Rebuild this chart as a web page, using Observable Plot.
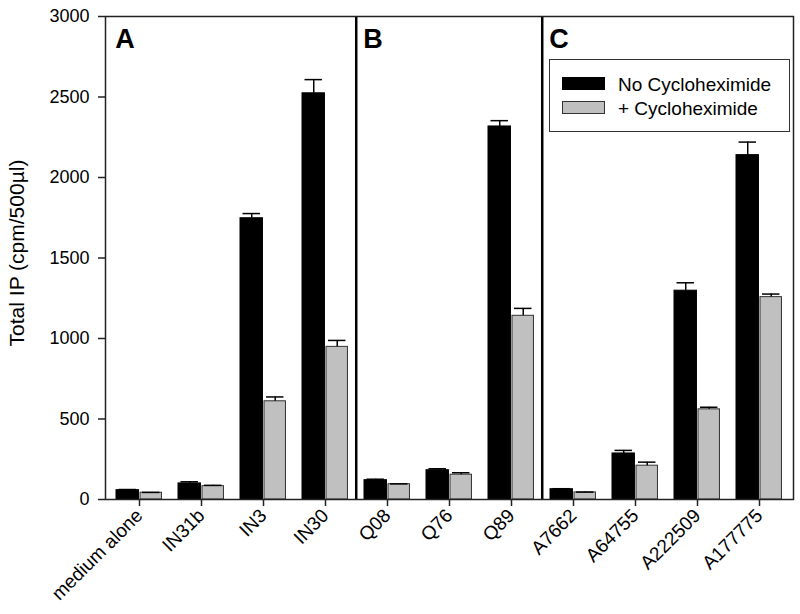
<!DOCTYPE html>
<html>
<head>
<meta charset="utf-8">
<script src="https://cdn.jsdelivr.net/npm/d3@7"></script>
<script src="https://cdn.jsdelivr.net/npm/@observablehq/plot@0.6"></script>
<style>
  html, body { margin: 0; padding: 0; background: #fff; }
  #wrap { position: relative; width: 800px; height: 614px; font-family: "Liberation Sans", Arial, sans-serif; color: #000; }
  #legend { position: absolute; left: 549px; top: 59px; width: 239px; height: 71px; border: 1.5px solid #333; background: #fff; box-sizing: content-box; }
  .sw { position: absolute; left: 12px; width: 43px; height: 13px; box-sizing: border-box; }
  .lt { position: absolute; left: 68px; font-size: 19px; line-height: 19px; white-space: nowrap; }
</style>
</head>
<body>
<div id="wrap"></div>
<script>
const categories = ["medium alone", "IN31b", "IN3", "IN30", "Q08", "Q76", "Q89", "A7662", "A64755", "A222509", "A177775"];
const noCyclo    = [58, 100, 1747, 2523, 120, 182, 2317, 64, 286, 1297, 2139];
const noCycloErr = [62, 110, 1776, 2608, 126, 191, 2353, 67, 305, 1346, 2220];
const plusCyclo    = [42, 83, 610, 948, 95, 154, 1141, 44, 210, 560, 1257];
const plusCycloErr = [44, 88, 637, 988, 97, 166, 1187, 46, 232, 573, 1276];
const seriesNames = ["No Cycloheximide", "+ Cycloheximide"];
const yTicks = [0, 500, 1000, 1500, 2000, 2500, 3000];
const panelLabels = ["A", "B", "C"];
const panelStarts = ["medium alone", "Q08", "A7662"];
const dividers = ["Q08", "A7662"];
const yLabel = "Total IP (cpm/500µl)";

const W = 800, H = 614, mL = 105, mR = 7, mT = 16, mB = 115;
const bw = (W - mL - mR) / categories.length;

const black = categories.map((c, i) => ({cat: c, v: noCyclo[i], e: noCycloErr[i]}));
const gray = categories.map((c, i) => ({cat: c, v: plusCyclo[i], e: plusCycloErr[i]}));
const panels = panelLabels.map((p, i) => ({label: p, cat: panelStarts[i]}));

const plot = Plot.plot({
  width: W, height: H,
  marginLeft: mL, marginRight: mR, marginTop: mT, marginBottom: mB,
  style: {fontFamily: "'Liberation Sans', Arial, sans-serif", color: "#000", background: "#fff"},
  x: {type: "band", domain: categories, padding: 0},
  y: {domain: [0, 3000]},
  marks: [
    Plot.barY(black, {x: "cat", y: "v", fill: "#000", stroke: "#000", strokeWidth: 1, insetLeft: 8, insetRight: bw - 31}),
    Plot.barY(gray, {x: "cat", y: "v", fill: "#c0c0c0", stroke: "#333", strokeWidth: 1, insetLeft: 32, insetRight: bw - 54}),
    Plot.ruleX(black, {x: "cat", y1: "v", y2: "e", dx: 19.5 - bw / 2, stroke: "#000", strokeWidth: 1.5}),
    Plot.ruleX(gray, {x: "cat", y1: "v", y2: "e", dx: 43 - bw / 2, stroke: "#000", strokeWidth: 1.5}),
    Plot.tickY(black, {x: "cat", y: "e", insetLeft: 10.5, insetRight: bw - 28.5, stroke: "#000", strokeWidth: 1.5}),
    Plot.tickY(gray, {x: "cat", y: "e", insetLeft: 34, insetRight: bw - 52, stroke: "#000", strokeWidth: 1.5}),
    Plot.ruleX(dividers, {x: d => d, dx: -bw / 2, stroke: "#000", strokeWidth: 2.5}),
    Plot.text(panels, {x: "cat", text: "label", frameAnchor: "top", dy: 31, dx: 7 - bw / 2, lineAnchor: "bottom", textAnchor: "start", fontSize: 27, fontWeight: "bold", fill: "#000"}),
    Plot.axisY({ticks: yTicks, tickFormat: d => String(d), tickSize: 7, tickPadding: 9, fontSize: 18, label: null, stroke: "#222", strokeWidth: 1.5}),
    Plot.axisX({tickRotate: -45, tickSize: 7, tickPadding: 6, fontSize: 19, label: null, stroke: "#222", strokeWidth: 1.5}),
    Plot.text([yLabel], {text: d => d, frameAnchor: "left", textAnchor: "middle", rotate: -90, dx: -88, dy: -5, fontSize: 21, fill: "#000"}),
    Plot.frame({stroke: "#222", strokeWidth: 1.5})
  ]
});

const wrap = document.getElementById("wrap");
wrap.appendChild(plot);

const legend = document.createElement("div");
legend.id = "legend";
const fills = [["#000", "#000"], ["#c0c0c0", "#333"]];
seriesNames.forEach((name, i) => {
  const sw = document.createElement("div");
  sw.className = "sw";
  sw.style.top = (17 + i * 23.5) + "px";
  sw.style.background = fills[i][0];
  sw.style.border = "1px solid " + fills[i][1];
  legend.appendChild(sw);
  const t = document.createElement("div");
  t.className = "lt";
  t.style.top = (15 + i * 23.5) + "px";
  t.textContent = name;
  legend.appendChild(t);
});
wrap.appendChild(legend);
</script>
</body>
</html>
